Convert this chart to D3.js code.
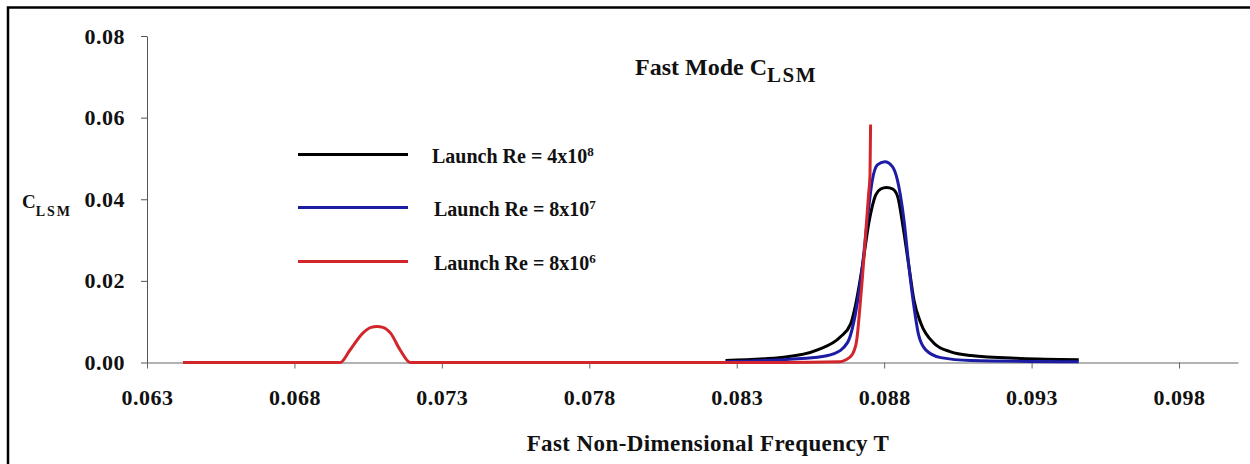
<!DOCTYPE html>
<html>
<head>
<meta charset="utf-8">
<script src="https://cdn.jsdelivr.net/npm/d3@7"></script>
<style>
  body { margin: 0; background: #fff; }
  svg { display: block; }
</style>
</head>
<body>
<div id="chart"></div>
<script>
var width = 1250
var height = 464

// x values (T) and C_LSM
var blackT = [0.08262, 0.08459, 0.08574, 0.08652, 0.08686, 0.08703, 0.08726, 0.08748, 0.08771, 0.08788, 0.08808, 0.08829, 0.08846, 0.08862, 0.08884, 0.08901, 0.08924, 0.08968, 0.09026, 0.09094, 0.09263, 0.0946]
var blackC = [0.0005, 0.0013, 0.0031, 0.0063, 0.0094, 0.0141, 0.0235, 0.0342, 0.0410, 0.0425, 0.0429, 0.0425, 0.0406, 0.0342, 0.0235, 0.0153, 0.0097, 0.0048, 0.0026, 0.0017, 0.0010, 0.0007]

var blueT = [0.08262, 0.08574, 0.08628, 0.08675, 0.08703, 0.08726, 0.08743, 0.0876, 0.08777, 0.08802, 0.08828, 0.08845, 0.08867, 0.08884, 0.08901, 0.08917, 0.08941, 0.08992, 0.09094, 0.0946]
var blueC = [0.0002, 0.0013, 0.0021, 0.0048, 0.0121, 0.0235, 0.0350, 0.0447, 0.0484, 0.0492, 0.0480, 0.0447, 0.0350, 0.0235, 0.0137, 0.0067, 0.0031, 0.0012, 0.0005, 0.0002]

var redT = [0.06422, 0.06955, 0.06988, 0.07032, 0.07060, 0.07080, 0.07100, 0.07126, 0.07159, 0.07193, 0.07260, 0.08449, 0.08652, 0.08669, 0.08693, 0.08707, 0.08717, 0.08727, 0.08737, 0.08747, 0.08752, 0.08754]
var redC = [0, 0, 0.0030, 0.0072, 0.0086, 0.0088, 0.0086, 0.0072, 0.0030, 0, 0, 0, 0.0002, 0.0006, 0.0021, 0.0055, 0.0129, 0.0215, 0.0313, 0.0411, 0.0460, 0.0583]

var xTicks = [0.063, 0.068, 0.073, 0.078, 0.083, 0.088, 0.093, 0.098]
var yTicks = [0, 0.02, 0.04, 0.06, 0.08]

var seriesNames = ['Launch Re = 4x10', 'Launch Re = 8x10', 'Launch Re = 8x10']
var seriesExp = ['8', '7', '6']
var colors = ['#000000', '#1c1ca4', '#d2262c']

var x = d3.scaleLinear().domain([0.063, 0.100]).range([147, 1238])
var y = d3.scaleLinear().domain([0, 0.08]).range([362.5, 36])

var serif = '"Liberation Serif", "Times New Roman", Times, serif'

var svg = d3.select('#chart').append('svg').attr('width', width).attr('height', height)

// frame
svg.append('path')
  .attr('d', 'M8,480 L8,7.5 L1252,7.5')
  .attr('fill', 'none')
  .attr('stroke', '#000')
  .attr('stroke-width', 2.5)

var styleText = (sel, size) => sel
  .style('font-family', serif)
  .style('font-weight', 'bold')
  .style('font-size', size + 'px')
  .attr('fill', '#111')

var xAxis = svg.append('g')
  .attr('transform', `translate(0, ${y(0)})`)
  .call(d3.axisBottom(x).tickValues(xTicks).tickFormat(d3.format('.3f')).tickSize(6).tickSizeOuter(0).tickPadding(21))
xAxis.select('.domain').attr('stroke', '#666')
xAxis.selectAll('.tick line').attr('stroke', '#666')
styleText(xAxis.selectAll('text'), 22).style('letter-spacing', '0.5px')

var yAxis = svg.append('g')
  .attr('transform', `translate(${x(0.063)}, 0)`)
  .call(d3.axisLeft(y).tickValues(yTicks).tickFormat(d3.format('.2f')).tickSize(6).tickSizeOuter(0).tickPadding(16))
yAxis.select('.domain').attr('stroke', '#555')
yAxis.selectAll('.tick line').attr('stroke', '#555')
styleText(yAxis.selectAll('text'), 22).style('letter-spacing', '0.5px')

var line = d3.line()
  .x(d => x(d[0]))
  .y(d => y(d[1]))
  .curve(d3.curveMonotoneX)

var series = [
  d3.zip(blackT, blackC),
  d3.zip(blueT, blueC),
  d3.zip(redT, redC)
]

svg.selectAll('.series')
  .data(series)
  .enter()
  .append('path')
  .attr('class', 'series')
  .attr('d', line)
  .attr('fill', 'none')
  .attr('stroke', (d, i) => colors[i])
  .attr('stroke-width', 3)
  .attr('stroke-linejoin', 'round')

// legend
var legendY = [154.5, 207.5, 261.5]
var legendTextX = [432, 434, 434]
var legend = svg.selectAll('.legend')
  .data(seriesNames)
  .enter()
  .append('g')
  .attr('class', 'legend')

legend.append('line')
  .attr('x1', 298).attr('x2', 408)
  .attr('y1', (d, i) => legendY[i]).attr('y2', (d, i) => legendY[i])
  .attr('stroke', (d, i) => colors[i])
  .attr('stroke-width', 3)

var lt = styleText(legend.append('text'), 20)
  .attr('x', (d, i) => legendTextX[i])
  .attr('y', (d, i) => legendY[i] + 8.5)
lt.append('tspan').text(d => d)
lt.append('tspan').attr('dy', -7.5).style('font-size', '13px').text((d, i) => seriesExp[i])

// title
var title = styleText(svg.append('text'), 24).attr('x', 635).attr('y', 75)
title.append('tspan').text('Fast Mode C')
title.append('tspan').attr('dy', 6.5).style('font-size', '21px').style('letter-spacing', '1.5px').text('LSM')

// y axis title
var yt = styleText(svg.append('text'), 19).attr('x', 22).attr('y', 208)
yt.append('tspan').text('C')
yt.append('tspan').attr('dy', 8).style('font-size', '14px').style('letter-spacing', '2px').text('LSM')

// x axis title
styleText(svg.append('text'), 23)
  .attr('x', 708).attr('y', 451)
  .attr('text-anchor', 'middle')
  .style('letter-spacing', '0.4px')
  .text('Fast Non-Dimensional Frequency T')
</script>
</body>
</html>
